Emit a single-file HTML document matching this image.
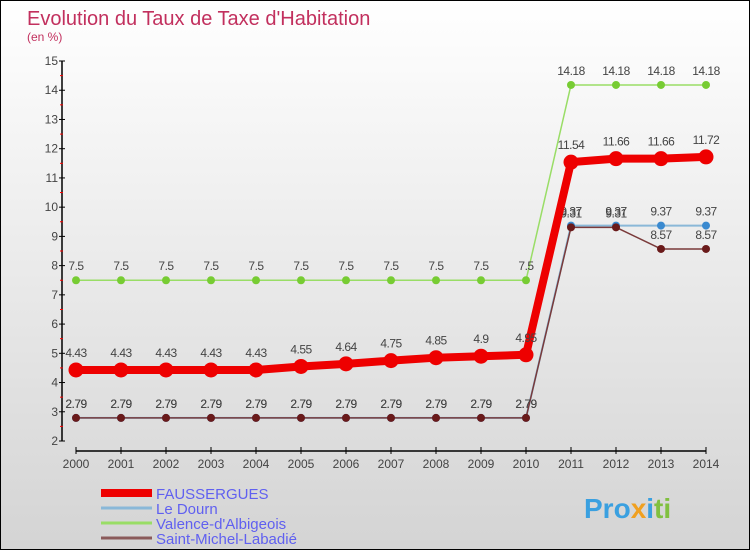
<!DOCTYPE html>
<html><head><meta charset="utf-8"><style>
body{margin:0}
#c{width:748px;height:548px;border:1px solid #000;background:linear-gradient(#fff,#d4d4d4);position:relative;font-family:"Liberation Sans",sans-serif;overflow:hidden}
text{font-family:"Liberation Sans",sans-serif}
</style></head><body>
<div id="c">
<svg id="s" width="748" height="548" xmlns="http://www.w3.org/2000/svg">
<text x="26" y="24" font-size="20" fill="#c2305e">Evolution du Taux de Taxe d'Habitation</text>
<text x="26" y="40" font-size="12" fill="#c2305e">(en %)</text>
<g id="axes"></g><g id="series"></g><g id="legend"></g>
<text x="583" y="517" font-size="28" font-weight="bold" fill="#3aa0e0">Pro<tspan fill="#f0a020">x</tspan><tspan fill="#3aa0e0">i</tspan><tspan fill="#80c040">ti</tspan></text>
</svg></div>
<script>
const years=[2000,2001,2002,2003,2004,2005,2006,2007,2008,2009,2010,2011,2012,2013,2014];
const faussergues=[4.43,4.43,4.43,4.43,4.43,4.55,4.64,4.75,4.85,4.9,4.95,11.54,11.66,11.66,11.72];
const leDourn=[2.79,2.79,2.79,2.79,2.79,2.79,2.79,2.79,2.79,2.79,2.79,9.37,9.37,9.37,9.37];
const valence=[7.5,7.5,7.5,7.5,7.5,7.5,7.5,7.5,7.5,7.5,7.5,14.18,14.18,14.18,14.18];
const saintMichel=[2.79,2.79,2.79,2.79,2.79,2.79,2.79,2.79,2.79,2.79,2.79,9.31,9.31,8.57,8.57];
const yTicks=[2,3,4,5,6,7,8,9,10,11,12,13,14,15];
const NS='http://www.w3.org/2000/svg';
const X=i=>75+i*45, Y=v=>440-(v-2)*29.23;
function mk(t,a,p){const e=document.createElementNS(NS,t);for(const k in a)e.setAttribute(k,a[k]);p.appendChild(e);return e;}
const ax=document.getElementById('axes');
let l=mk('line',{x1:61,y1:60,x2:61,y2:440,stroke:'#000','stroke-width':1.5},ax);


yTicks.forEach(v=>{
  mk('line',{x1:58,y1:Y(v),x2:64,y2:Y(v),stroke:'#000'},ax);
  if(v<15)mk('line',{x1:59,y1:Y(v+0.5),x2:62,y2:Y(v+0.5),stroke:'#f00'},ax);
  const t=mk('text',{x:57,y:Y(v)+4,'font-size':12,'text-anchor':'end',fill:'#444'},ax);t.textContent=v;
  
  
});
l=mk('line',{x1:75,y1:450,x2:705,y2:450,stroke:'#000','stroke-width':1.5},ax);


years.forEach((y,i)=>{
  mk('line',{x1:X(i),y1:446,x2:X(i),y2:453,stroke:'#000'},ax);
  const t=mk('text',{x:X(i),y:467,'font-size':12,'text-anchor':'middle',fill:'#444'},ax);t.textContent=y;
  
  
});
const sg=document.getElementById('series');
function series(vals,name,col,lc,w,r,dy){
  const g=mk('g',{},sg);
  
  
  mk('polyline',{points:vals.map((v,i)=>X(i)+','+Y(v)).join(' '),fill:'none',stroke:lc,'stroke-width':w,'stroke-linejoin':'round'},g);
  vals.forEach((v,i)=>{
    const c=mk('circle',{cx:X(i),cy:Y(v),r:r,fill:col},g);
    
    
    const t=mk('text',{x:X(i),y:Y(v)-dy,'font-size':12,'text-anchor':'middle',fill:'#444','letter-spacing':'-0.5'},g);t.textContent=v;
    
    
  });
}
series(valence,'valence-series','#77cc33','#99dd66',1.5,4,10);
series(leDourn,'le-dourn-series','#3a8ad0','#8ab8d8',2,4,10);
series(saintMichel,'saint-michel-series','#6a1a1a','#7a3a3a',1.5,4,10);
series(faussergues,'faussergues-series','#ee0000','#ee0000',8,7.5,13);
const lg=document.getElementById('legend');
[['FAUSSERGUES','#ee0000',8],['Le Dourn','#8ab8d8',3],["Valence-d'Albigeois",'#99dd66',3],['Saint-Michel-Labadié','#8a5a5a',3]].forEach((d,i)=>{
  const g=mk('g',{},lg);
  
  
  const y=492+i*15;
  mk('line',{x1:100,y1:y,x2:151,y2:y,stroke:d[1],'stroke-width':d[2]},g);
  const t=mk('text',{x:155,y:y+6,'font-size':15,fill:'#6060f0'},g);t.textContent=d[0];
});
</script></body></html>
